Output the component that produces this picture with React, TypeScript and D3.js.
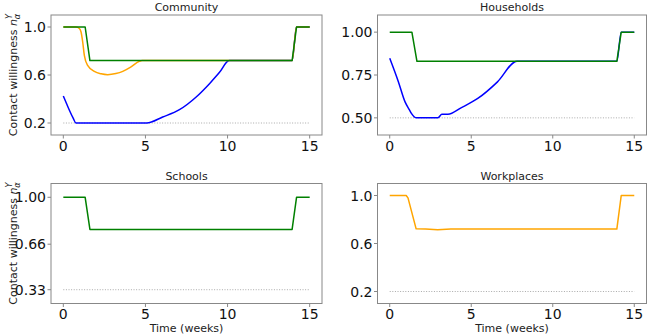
import React from "react";
import * as d3 from "d3";

// time axis (weeks) and willingness values
const commGreenT = [0, 1.33, 1.62, 13.93, 14.2, 15];
const commGreenV = [1, 1, 0.72, 0.72, 1, 1];
const commOrangeT = [0, 0.77, 0.98, 1.08, 1.18, 1.28, 1.48, 1.89, 2.3, 2.7, 3.2, 3.62, 4.1, 4.63, 4.8, 13.93, 14.2, 15];
const commOrangeV = [1, 1, 0.987, 0.958, 0.875, 0.764, 0.68, 0.63, 0.61, 0.603, 0.612, 0.63, 0.665, 0.714, 0.72, 0.72, 1, 1];
const commBlueT = [0, 0.2, 0.37, 0.6, 0.77, 5.08, 6.05, 7.07, 8.09, 8.9, 9.5, 10.1, 13.93, 14.2, 15];
const commBlueV = [0.425, 0.36, 0.306, 0.24, 0.2, 0.2, 0.25, 0.311, 0.417, 0.528, 0.62, 0.72, 0.72, 1, 1];

const hhGreenT = [0, 1.36, 1.67, 13.93, 14.2, 15];
const hhGreenV = [1, 1, 0.83, 0.83, 1, 1];
const hhBlueT = [0, 0.53, 0.94, 1.2, 1.34, 1.64, 2.96, 3.2, 3.57, 4.4, 5.4, 6.61, 7.8, 13.93, 14.2, 15];
const hhBlueV = [0.848, 0.711, 0.593, 0.548, 0.525, 0.5, 0.5, 0.521, 0.521, 0.56, 0.613, 0.71, 0.83, 0.83, 1, 1];

const schGreenT = [0, 1.33, 1.62, 13.93, 14.2, 15];
const schGreenV = [1, 1, 0.767, 0.767, 1, 1];

const wpOrangeT = [0, 1.01, 1.12, 1.62, 2.2, 2.94, 3.75, 13.93, 14.2, 15];
const wpOrangeV = [1, 1, 0.98, 0.722, 0.72, 0.714, 0.72, 0.72, 1, 1];

const xTicks = [0, 5, 10, 15];
const commTicks = [0.2, 0.6, 1.0];
const commTickLabels = ["0.2", "0.6", "1.0"];
const hhTicks = [0.5, 0.75, 1.0];
const hhTickLabels = ["0.50", "0.75", "1.00"];
const schTicks = [0.33, 0.66, 1.0];
const schTickLabels = ["0.33", "0.66", "1.00"];
const wpTicks = [0.2, 0.6, 1.0];
const wpTickLabels = ["0.2", "0.6", "1.0"];

const FONT = "DejaVu Sans, sans-serif";

type Series = { t: number[]; v: number[]; color: string; curve?: boolean };

function Panel(props: {
  left: number; right: number; top: number; bottom: number;
  title: string; threshold: number; ymin: number;
  ticks: number[]; tickLabels: string[]; series: Series[];
  ylabel?: boolean; xlabel?: boolean;
}) {
  const { left, right, top, bottom } = props;
  const x = d3.scaleLinear().domain([-0.75, 15.75]).range([left, right]);
  const y = d3.scaleLinear().domain([props.ymin, 1.1]).range([bottom, top]);

  const mk = (s: Series) => {
    const pts = s.t.map((t, i) => [t, s.v[i]] as [number, number]);
    return d3.line<[number, number]>()
      .x(d => x(d[0]))
      .y(d => y(d[1]))
      .curve(s.curve ? d3.curveMonotoneX : d3.curveLinear)(pts) as string;
  };

  return (
    <g>
      <line x1={x(0)} x2={x(15)} y1={y(props.threshold)} y2={y(props.threshold)}
        stroke="#aaa" strokeWidth={1} strokeDasharray="1,1.6" />
      {props.series.map((s, i) => (
        <path key={i} d={mk(s)} fill="none" stroke={s.color} strokeWidth={1.5} strokeLinejoin="round" />
      ))}
      <rect x={left} y={top} width={right - left} height={bottom - top} fill="none" stroke="#888" strokeWidth={1} />
      {props.ticks.map((t, i) => (
        <g key={i}>
          <line x1={left - 3.5} x2={left} y1={y(t)} y2={y(t)} stroke="#888" />
          <text x={left - 5} y={y(t)} dy="0.36em" textAnchor="end" fontSize={14} fontFamily={FONT} fill="#111">
            {props.tickLabels[i]}
          </text>
        </g>
      ))}
      {xTicks.map(t => (
        <g key={t}>
          <line x1={x(t)} x2={x(t)} y1={bottom} y2={bottom + 3.5} stroke="#888" />
          <text x={x(t)} y={bottom + 15.5} textAnchor="middle" fontSize={14} fontFamily={FONT} fill="#111">{t}</text>
        </g>
      ))}
      <text x={(left + right) / 2} y={top - 4} textAnchor="middle" fontSize={11} fontFamily={FONT} fill="#222">
        {props.title}
      </text>
      {props.ylabel && (
        <text transform={`translate(16.5,${(top + bottom) / 2}) rotate(-90)`} textAnchor="middle"
          fontSize={11} fontFamily={FONT} fill="#222">
          Contact willingness <tspan fontStyle="italic">n</tspan>
          <tspan fontStyle="italic" fontSize={8} dy={-5}>Y</tspan>
          <tspan fontStyle="italic" fontSize={8} dx={-5} dy={8}>α</tspan>
        </text>
      )}
      {props.xlabel && (
        <text x={(left + right) / 2} y={bottom + 28} textAnchor="middle" fontSize={11} fontFamily={FONT} fill="#222">
          Time (weeks)
        </text>
      )}
    </g>
  );
}

export default function App() {
  return (
    <svg width={649} height={334} style={{ position: "absolute", left: 0, top: 0, background: "#fff" }}>
      <Panel left={51} right={322} top={15} bottom={135} title="Community" threshold={0.2} ymin={0.1}
        ticks={commTicks} tickLabels={commTickLabels} ylabel
        series={[
          { t: commBlueT, v: commBlueV, color: "blue", curve: true },
          { t: commOrangeT, v: commOrangeV, color: "orange", curve: true },
          { t: commGreenT, v: commGreenV, color: "green" },
        ]} />
      <Panel left={377.5} right={646.5} top={15} bottom={135} title="Households" threshold={0.5} ymin={0.4}
        ticks={hhTicks} tickLabels={hhTickLabels}
        series={[
          { t: hhBlueT, v: hhBlueV, color: "blue", curve: true },
          { t: hhGreenT, v: hhGreenV, color: "green" },
        ]} />
      <Panel left={51} right={322} top={183.5} bottom={303.5} title="Schools" threshold={0.33} ymin={0.23}
        ticks={schTicks} tickLabels={schTickLabels} ylabel xlabel
        series={[{ t: schGreenT, v: schGreenV, color: "green" }]} />
      <Panel left={377.5} right={646.5} top={183.5} bottom={303.5} title="Workplaces" threshold={0.2} ymin={0.1}
        ticks={wpTicks} tickLabels={wpTickLabels} xlabel
        series={[{ t: wpOrangeT, v: wpOrangeV, color: "orange" }]} />
    </svg>
  );
}
